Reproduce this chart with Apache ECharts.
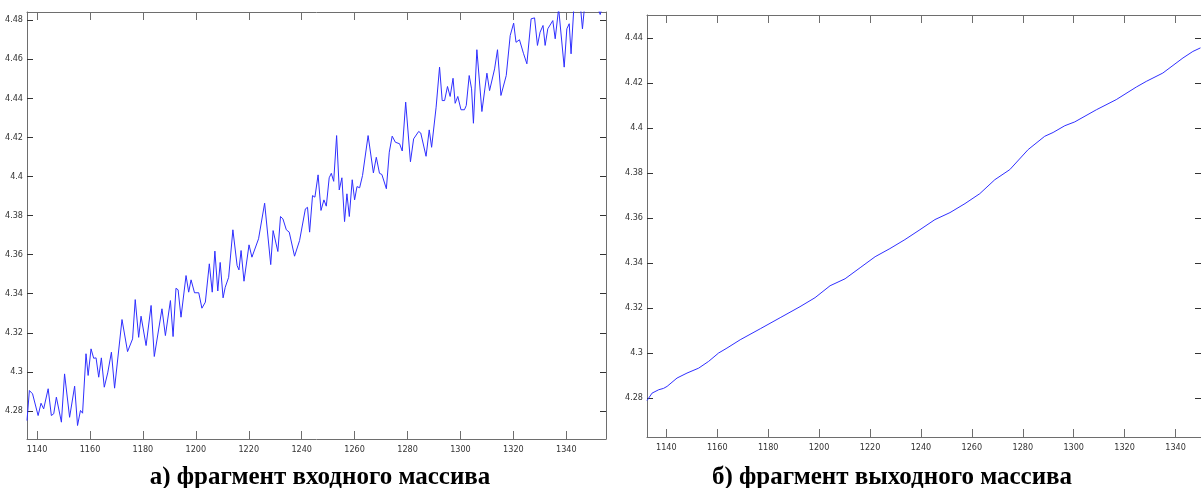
<!DOCTYPE html>
<html>
<head>
<meta charset="utf-8">
<script src="https://cdn.jsdelivr.net/npm/echarts@6/dist/echarts.min.js"></script>
<style>
  html, body { margin: 0; padding: 0; background: #fff; }
  #chart { width: 1201px; height: 488px; }
</style>
</head>
<body>
<div id="chart"></div>
<script>
// left panel: input array fragment (noisy)
var inputX = [1136.2,1137.1,1138.3,1140.4,1141.5,1142.5,1143.1,1144.2,1145.4,1146.3,
  1147.3,1149.2,1150.4,1152.3,1154.2,1155.3,1156.4,1157.2,1158.5,1159.3,
  1160.4,1161.4,1162.3,1163.3,1164.3,1165.4,1166.7,1167.3,1168.1,1169.3,
  1172.1,1174.2,1176.1,1177.1,1178.4,1179.3,1181.2,1183.1,1184.3,1187.2,
  1188.5,1190.4,1191.4,1192.5,1193.3,1194.4,1196.3,1197.3,1198.2,1199.5,
  1201.1,1202.3,1203.6,1205.1,1206.2,1207.2,1208.3,1209.2,1210.3,1211.1,
  1212.4,1214.0,1215.6,1216.3,1217.1,1218.2,1220.1,1221.2,1223.7,1226.0,
  1228.3,1229.2,1231.0,1232.0,1232.9,1234.2,1235.3,1237.3,1239.2,1241.4,
  1242.2,1243.0,1244.1,1245.0,1246.2,1247.3,1248.4,1249.3,1250.4,1251.2,
  1252.1,1253.2,1254.2,1255.2,1256.2,1257.1,1258.0,1259.1,1260.0,1260.9,
  1261.9,1263.0,1265.1,1267.1,1268.2,1269.4,1270.3,1272.0,1273.1,1274.2,
  1275.4,1277.0,1278.0,1279.3,1281.1,1282.3,1284.2,1285.0,1287.0,1288.2,
  1289.1,1290.8,1292.1,1293.1,1294.0,1295.1,1296.1,1297.2,1298.0,1299.0,
  1300.2,1301.5,1302.2,1303.3,1304.2,1304.9,1306.2,1308.1,1310.0,1311.0,
  1312.9,1314.0,1315.3,1317.3,1318.8,1320.1,1321.0,1322.3,1323.8,1325.1,
  1326.7,1328.0,1329.1,1330.1,1331.2,1332.0,1333.0,1334.9,1335.8,1337.1,
  1339.2,1340.2,1341.1,1341.8,1342.9,1345.2,1346.1,1347.1,1349.7,1352.8,
  1354.2];
var inputY = [4.2751,4.2905,4.2888,4.2777,4.2840,4.2811,4.2819,4.2914,4.2777,4.2786,
  4.2871,4.2743,4.2990,4.2768,4.2927,4.2726,4.2803,4.2789,4.3093,4.2982,
  4.3118,4.3070,4.3072,4.2973,4.3072,4.2922,4.2995,4.3002,4.3101,4.2917,
  4.3268,4.3104,4.3169,4.3370,4.3177,4.3285,4.3135,4.3340,4.3079,4.3323,
  4.3186,4.3365,4.3181,4.3428,4.3420,4.3280,4.3493,4.3408,4.3471,4.3405,
  4.3405,4.3326,4.3357,4.3553,4.3408,4.3618,4.3414,4.3560,4.3379,4.3433,
  4.3484,4.3727,4.3544,4.3522,4.3621,4.3464,4.3650,4.3587,4.3681,4.3863,
  4.3549,4.3723,4.3616,4.3795,4.3783,4.3727,4.3715,4.3592,4.3672,4.3834,
  4.3842,4.3715,4.3902,4.3894,4.4008,4.3826,4.3880,4.3848,4.3993,4.4016,
  4.3975,4.4209,4.3931,4.3993,4.3769,4.3911,4.3795,4.3983,4.3880,4.3948,
  4.3942,4.4005,4.4209,4.4018,4.4098,4.4016,4.4010,4.3937,4.4124,4.4206,
  4.4175,4.4167,4.4130,4.4380,4.4075,4.4192,4.4230,4.4222,4.4103,4.4238,
  4.4149,4.4354,4.4559,4.4388,4.4388,4.4460,4.4409,4.4502,4.4374,4.4409,
  4.4341,4.4341,4.4363,4.4516,4.4448,4.4272,4.4648,4.4332,4.4528,4.4439,
  4.4550,4.4648,4.4414,4.4516,4.4721,4.4784,4.4686,4.4699,4.4630,4.4576,
  4.4806,4.4811,4.4670,4.4738,4.4772,4.4670,4.4755,4.4797,4.4704,4.4859,
  4.4559,4.4755,4.4781,4.4627,4.4874,4.4890,4.4755,4.4900,4.4950,4.4828,
  4.4900];

// right panel: output array fragment (smooth)
var outputX = [1132.4,1134.4,1137.0,1138.9,1140.3,1144.2,1148.1,1152.7,1156.6,1160.5,
  1163.8,1169.0,1176.9,1184.7,1192.5,1198.4,1204.3,1210.2,1216.1,1222.0,
  1227.8,1233.7,1239.6,1245.5,1251.4,1257.3,1263.1,1269.0,1274.9,1282.1,
  1288.6,1291.9,1296.5,1300.4,1308.9,1316.7,1324.6,1328.5,1335.0,1342.9,
  1346.8,1349.8];
var outputY = [4.2789,4.2822,4.2837,4.2843,4.2852,4.2889,4.2911,4.2933,4.2963,4.3000,
  4.3022,4.3059,4.3108,4.3157,4.3206,4.3246,4.3299,4.3330,4.3379,4.3428,
  4.3464,4.3504,4.3548,4.3593,4.3624,4.3664,4.3708,4.3770,4.3815,4.3904,
  4.3963,4.3980,4.4010,4.4027,4.4081,4.4126,4.4182,4.4207,4.4244,4.4311,
  4.4340,4.4356];

var xTicks = [1140, 1160, 1180, 1200, 1220, 1240, 1260, 1280, 1300, 1320, 1340];
var leftYTicks = [4.28, 4.3, 4.32, 4.34, 4.36, 4.38, 4.4, 4.42, 4.44, 4.46, 4.48];
var rightYTicks = [4.28, 4.3, 4.32, 4.34, 4.36, 4.38, 4.4, 4.42, 4.44];
var captions = ['а) фрагмент входного массива', 'б) фрагмент выходного массива'];

var axisGrey = '#6e6e6e';
var tickFont = "'Liberation Sans Narrow', 'Arial Narrow', 'DejaVu Sans Condensed', sans-serif";

function fmt(v) { return String(+(+v).toFixed(2)); }

function xAx(gi, min, max, pos, labels) {
  return {
    type: 'value', gridIndex: gi, min: min, max: max, position: pos,
    axisLine: { show: true, onZero: false, lineStyle: { color: axisGrey, width: 1 } },
    axisTick: { show: true, inside: true, length: 8, customValues: xTicks,
      lineStyle: { color: axisGrey } },
    axisLabel: { show: labels, customValues: xTicks, margin: 6, color: '#333',
      fontSize: 9, fontFamily: tickFont, formatter: fmt },
    splitLine: { show: false }
  };
}
function yAx(gi, min, max, pos, ticks, labels) {
  return {
    type: 'value', gridIndex: gi, min: min, max: max, position: pos,
    axisLine: { show: true, onZero: false, lineStyle: { color: axisGrey, width: 1 } },
    axisTick: { show: true, inside: true, length: 6, customValues: ticks,
      lineStyle: { color: '#333' } },
    axisLabel: { show: labels, customValues: ticks, margin: 4, color: '#333',
      fontSize: 9, fontFamily: tickFont, formatter: fmt },
    splitLine: { show: false }
  };
}

var chart = echarts.init(document.getElementById('chart'), null, { renderer: 'canvas' });
chart.setOption({
  backgroundColor: '#fff',
  animation: false,
  title: [
    { text: captions[0], left: 315, top: 460, textAlign: 'center',
      textStyle: { fontFamily: 'Liberation Serif', fontWeight: 'bold', fontSize: 25, color: '#000' } },
    { text: captions[1], left: 887, top: 460, textAlign: 'center',
      textStyle: { fontFamily: 'Liberation Serif', fontWeight: 'bold', fontSize: 25, color: '#000' } }
  ],
  grid: [
    { left: 27, top: 12, right: 595, bottom: 49 },
    { left: 647, top: 15, right: 0, bottom: 51 }
  ],
  xAxis: [
    xAx(0, 1136.2, 1355, 'bottom', true),
    xAx(0, 1136.2, 1355, 'top', false),
    xAx(1, 1132.4, 1350, 'bottom', true),
    xAx(1, 1132.4, 1350, 'top', false)
  ],
  yAxis: [
    yAx(0, 4.2657, 4.4841, 'left', leftYTicks, true),
    yAx(0, 4.2657, 4.4841, 'right', leftYTicks, false),
    yAx(1, 4.2627, 4.4502, 'left', rightYTicks, true),
    yAx(1, 4.2627, 4.4502, 'right', rightYTicks, false)
  ],
  series: [
    {
      type: 'line', xAxisIndex: 0, yAxisIndex: 0, showSymbol: false, clip: true,
      lineStyle: { color: '#2f2fff', width: 1 },
      data: inputX.map(function (x, i) { return [x, inputY[i]]; })
    },
    {
      type: 'line', xAxisIndex: 2, yAxisIndex: 2, showSymbol: false, clip: true,
      lineStyle: { color: '#2f2fff', width: 1 },
      data: outputX.map(function (x, i) { return [x, outputY[i]]; })
    }
  ]
});
</script>
</body>
</html>
